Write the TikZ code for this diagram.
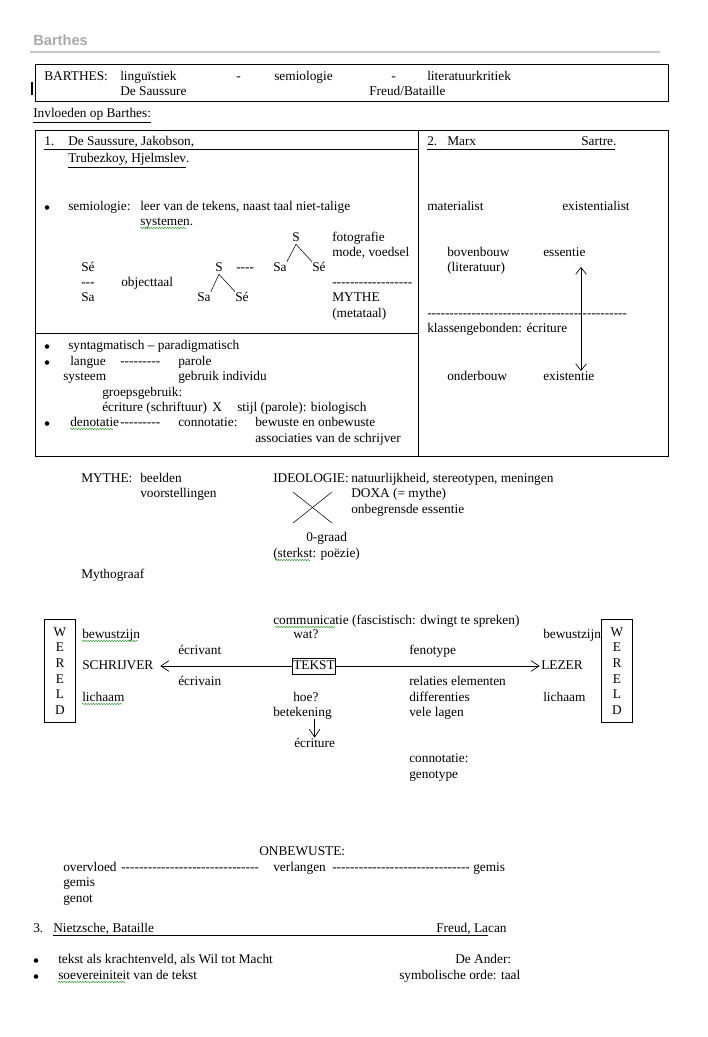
\documentclass[tikz,border=0pt]{standalone}
\usepackage{fontspec}
\newfontfamily\docfont{Liberation Serif}
\newfontfamily\headfont{Liberation Sans}
\usetikzlibrary{arrows.meta,decorations.pathmorphing}
\definecolor{headgray}{RGB}{170,170,170}
\definecolor{rulegray}{RGB}{200,200,200}
\definecolor{spellgreen}{RGB}{60,160,60}
\tikzset{
  txt/.style={anchor=west, inner sep=0pt, text height=7pt, text depth=2pt},
  dot/.style={circle, fill=black, inner sep=0pt, minimum size=3.4pt},
  frame/.style={draw=black, line width=0.6pt},
  openarrow/.style={line width=0.5pt, -{Straight Barb[length=6pt,width=8pt]}},
  twoarrow/.style={line width=0.5pt,
    {Straight Barb[length=5pt,width=8pt]}-{Straight Barb[length=5pt,width=8pt]}},
  spell/.style={spellgreen, line width=0.4pt, decorate,
    decoration={snake, amplitude=0.5pt, segment length=2pt}}
}
\newcommand{\wereld}[2]{%
  \draw[frame] (#2-15.5,619) rectangle (#2+15.5,722);
  \foreach \l [count=\i] in {W,E,R,E,L,D}{
    \node[inner sep=0pt, text height=7pt, text depth=2pt] (#1\i)
      at (#2,633+15.6*\i-15.6) {\l};
  }
}

\begin{document}
\begin{tikzpicture}[x=0.75pt,y=-0.75pt,font=\docfont\fontsize{10}{12}\selectfont]
  \fill[white] (0,0) rectangle (707,1037);
  \useasboundingbox (0,0) rectangle (707,1037);

  % Page header
  \node[txt, font=\headfont\bfseries\fontsize{11}{13}\selectfont, text=headgray]
    (head) at (33,42) {Barthes};
  \draw[rulegray, line width=0.8pt] (30,52) -- (660,52);

  % Top box
  \draw[frame] (35,64) rectangle (668,101);
  \draw[line width=1.6pt] (32,82) -- (32,95);
  \node[txt] (bar) at (44,77) {BARTHES:};
  \node[txt] (ling) at (120,77) {linguïstiek};
  \node[txt] (d1) at (236,77) {-};
  \node[txt] (semi) at (274,77) {semiologie};
  \node[txt] (d2) at (391,77) {-};
  \node[txt] (litk) at (427,77) {literatuurkritiek};
  \node[txt] (saus) at (120,92) {De Saussure};
  \node[txt] (freu) at (369,92) {Freud/Bataille};
  \node[txt] (invl) at (33,114) {\underline{Invloeden op Barthes:}};

  % Table
  \draw[frame] (35,130) rectangle (668,456);
  \draw[frame] (418,130) -- (418,456);
  \draw[frame] (35,333) -- (418,333);

  % Cell 1
  \node[txt] (n1) at (44,142) {1.};
  \node[txt] (jak) at (68,142) {De Saussure, Jakobson,};
  \draw[line width=0.4pt] (44,149) -- (418,149);
  \node[txt] (trub) at (68,159) {\underline{Trubezkoy, Hjelmslev}.};
  \node[dot] (b1) at (47,207.5) {};
  \node[txt] (sem) at (68,207) {semiologie:};
  \node[txt] (leer) at (140,207) {leer van de tekens, naast taal niet-talige};
  \node[txt] (sys) at (140,222) {systemen.};
  \draw[spell] (140,228) -- (186,228);
  \node[txt] (s1) at (292,238) {S};
  \node[txt] (foto) at (332,238) {fotografie};
  \node[txt] (mode) at (332,253) {mode, voedsel};
  \node[txt] (se0) at (81,268) {Sé};
  \node[txt] (s2) at (215,268) {S};
  \node[txt] (d3) at (236,268) {----};
  \node[txt] (sa1) at (273,268) {Sa};
  \node[txt] (se1) at (312,268) {Sé};
  \node[txt] (d4) at (81,283) {---};
  \node[txt] (obj) at (121,283) {objecttaal};
  \node[txt] (d5) at (332,283) {------------------};
  \node[txt] (sa0) at (81,298) {Sa};
  \node[txt] (sa2) at (197,298) {Sa};
  \node[txt] (se2) at (235,298) {Sé};
  \node[txt] (myth) at (332,298) {MYTHE};
  \node[txt] (meta) at (332,314) {(metataal)};
  \draw (s1.south) -- (sa1.north east);
  \draw (s1.south) -- (se1.north west);
  \draw (s2.south) -- (sa2.north east);
  \draw (s2.south) -- (se2.north west);

  % Cell 2
  \node[txt] (n2) at (427,142) {2.};
  \node[txt] (marx) at (447,142) {Marx};
  \node[txt] (sart) at (581,142) {Sartre.};
  \draw[line width=0.4pt] (427,149) -- (615,149);
  \node[txt] (mat) at (427,207) {materialist};
  \node[txt] (exi) at (562,207) {existentialist};
  \node[txt] (bov) at (447,253) {bovenbouw};
  \node[txt] (ess) at (543,253) {essentie};
  \node[txt] (lit) at (447,268) {(literatuur)};
  \node[txt] (d6) at (427,314) {---------------------------------------------};
  \node[txt] (klas) at (427,329) {klassengebonden: écriture};
  \node[txt] (ond) at (447,377) {onderbouw};
  \node[txt] (exs) at (543,377) {existentie};
  \coordinate (up) at (581,267);
  \coordinate (down) at (581,371);
  \draw[twoarrow] (up) -- (down);

  % Cell 3
  \node[dot] (b2) at (47,346.5) {};
  \node[txt] (synt) at (68,346) {syntagmatisch – paradigmatisch};
  \node[dot] (b3) at (47,362.5) {};
  \node[txt] (lang) at (70,362) {langue};
  \node[txt] (d7) at (120,362) {---------};
  \node[txt] (par) at (178,362) {parole};
  \node[txt] (syst) at (63,377) {systeem};
  \node[txt] (gebr) at (178,377) {gebruik individu};
  \node[txt] (groe) at (102,393) {groepsgebruik:};
  \node[txt] (ecr1) at (102,408) {écriture (schriftuur)};
  \node[txt] (x) at (212,408) {X};
  \node[txt] (stijl) at (237,408) {stijl (parole): biologisch};
  \node[dot] (b4) at (47,423.5) {};
  \node[txt] (deno) at (70,423) {denotatie};
  \draw[spell] (70,429) -- (113,429);
  \node[txt] (d8) at (120,423) {---------};
  \node[txt] (conn) at (178,423) {connotatie:};
  \node[txt] (bew) at (255,423) {bewuste en onbewuste};
  \node[txt] (ass) at (255,439) {associaties van de schrijver};

  % Mythe / ideologie
  \node[txt] (myt2) at (81,479) {MYTHE:};
  \node[txt] (beel) at (140,479) {beelden};
  \node[txt] (voor) at (140,494) {voorstellingen};
  \node[txt] (ideo) at (273,479) {IDEOLOGIE:};
  \node[txt] (natu) at (351,479) {natuurlijkheid, stereotypen, meningen};
  \node[txt] (doxa) at (351,494) {DOXA (= mythe)};
  \node[txt] (onbe) at (351,510) {onbegrensde essentie};
  \draw (293,492) -- (332,523);
  \draw (332,492) -- (293,523);
  \node[txt] (graad) at (306,538) {0-graad};
  \node[txt] (sterk) at (273,554) {(sterkst: poëzie)};
  \draw[spell] (275,560) -- (310,560);
  \node[txt] (mgr) at (81,575) {Mythograaf};

  % Communicatie
  \node[txt] (comm) at (273,621) {communicatie (fascistisch: dwingt te spreken)};
  \draw[spell] (275,627) -- (335,627);
  \wereld{wl}{60}
  \wereld{wr}{617}
  \node[txt] (bewl) at (82,635) {bewustzijn};
  \draw[spell] (82,641) -- (138,641);
  \node[txt] (wat) at (293,635) {wat?};
  \node[txt] (bewr) at (543,635) {bewustzijn};
  \node[txt] (crvt) at (178,651) {écrivant};
  \node[txt] (feno) at (409,651) {fenotype};
  \node[txt] (schr) at (82,666) {SCHRIJVER};
  \node[draw, inner xsep=0.6pt, inner ysep=1.4pt, text height=7pt, text depth=2pt]
    (tekst) at (314,666) {TEKST};
  \node[txt] (lez) at (541,666) {LEZER};
  \draw[openarrow, shorten >=5pt] (tekst) -- (schr);
  \draw[openarrow, shorten >=1pt] (tekst) -- (lez);
  \node[txt] (crvn) at (178,682) {écrivain};
  \node[txt] (rel) at (409,682) {relaties elementen};
  \node[txt] (lichl) at (82,698) {lichaam};
  \draw[spell] (82,704) -- (122,704);
  \node[txt] (hoe) at (293,698) {hoe?};
  \node[txt] (diff) at (409,698) {differenties};
  \node[txt] (lichr) at (543,698) {lichaam};
  \node[txt] (betk) at (273,713) {betekening};
  \node[txt] (vele) at (409,713) {vele lagen};
  \node[txt] (ecr2) at (294,744) {écriture};
  \draw[openarrow] (ecr2.north |- betk.south) -- (ecr2.north);
  \node[txt] (con2) at (409,759) {connotatie:};
  \node[txt] (geno) at (409,775) {genotype};

  % Onbewuste
  \node[txt] (onbw) at (259,852) {ONBEWUSTE:};
  \node[txt] (over) at (63,868) {overvloed};
  \node[txt] (d9) at (121,868) {-------------------------------};
  \node[txt] (verl) at (273,868) {verlangen};
  \node[txt] (d10) at (332,868) {-------------------------------};
  \node[txt] (gem1) at (473,868) {gemis};
  \node[txt] (gem2) at (63,883) {gemis};
  \node[txt] (gen) at (63,899) {genot};

  % Punt 3
  \node[txt] (n3) at (33,929) {3.};
  \node[txt] (nie) at (53,929) {Nietzsche, Bataille};
  \node[txt] (lac) at (436,929) {Freud, Lacan};
  \draw[line width=0.4pt] (53,935) -- (488,935);
  \node[dot] (b5) at (36,960.5) {};
  \node[txt] (kra) at (58,960) {tekst als krachtenveld, als Wil tot Macht};
  \node[txt] (and) at (455,960) {De Ander:};
  \node[dot] (b6) at (36,976.5) {};
  \node[txt] (soev) at (58,976) {soevereiniteit van de tekst};
  \draw[spell] (58,982) -- (125,982);
  \node[txt] (symb) at (399,976) {symbolische orde: taal};
\end{tikzpicture}
\end{document}
